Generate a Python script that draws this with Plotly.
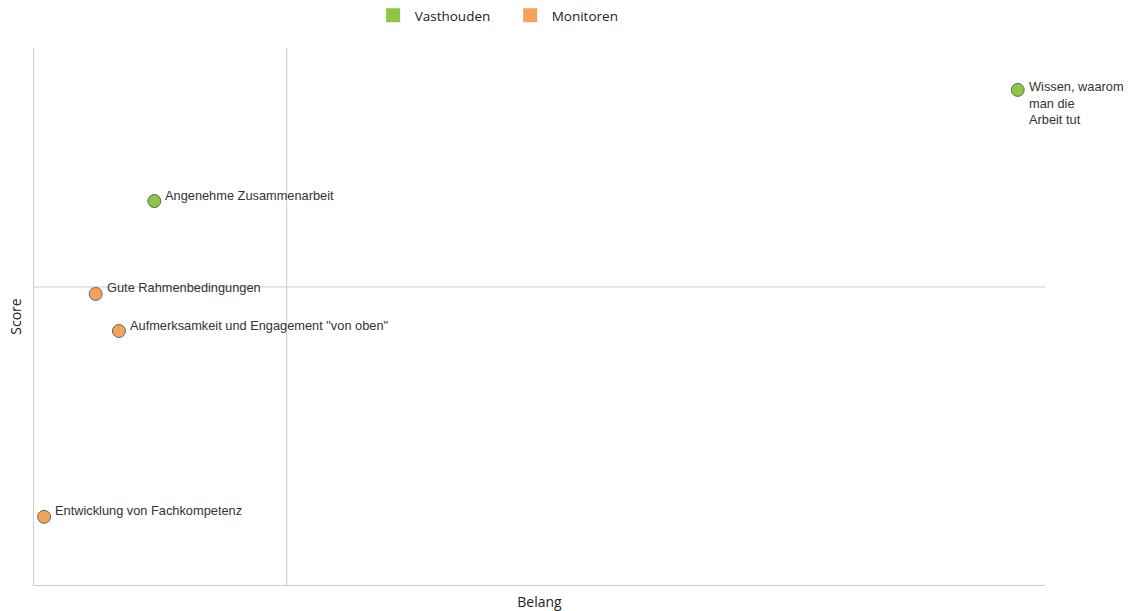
import plotly.graph_objects as go

# Data (axes scaled 0-100)
labels = ["Wissen, waarom<br>man die<br>Arbeit tut", "Angenehme Zusammenarbeit",
          "Gute Rahmenbedingungen", "Aufmerksamkeit und Engagement \"von oben\"",
          "Entwicklung von Fachkompetenz"]
belang = [97.3, 11.9, 6.1, 8.4, 1.0]
score = [92.2, 71.5, 54.2, 47.3, 12.7]
groups = ["Vasthouden", "Vasthouden", "Monitoren", "Monitoren", "Monitoren"]
series_names = ["Vasthouden", "Monitoren"]
series_colors = {"Vasthouden": "#8dc63f", "Monitoren": "#f5a35a"}
x_split = 25.0
y_split = 55.5

fig = go.Figure()
for name in series_names:
    xs = [b for b, g in zip(belang, groups) if g == name]
    ys = [s for s, g in zip(score, groups) if g == name]
    fig.add_trace(go.Scatter(x=xs, y=ys, mode="markers", showlegend=False,
                             marker=dict(size=13, color=series_colors[name],
                                         line=dict(color="#666666", width=1)),
                             hoverinfo="skip"))
for name in series_names:
    fig.add_trace(go.Scatter(x=[None], y=[None], mode="markers", name=name,
                             marker=dict(size=14, symbol="square", color=series_colors[name])))

for lab, b, s in zip(labels, belang, score):
    multi = "<br>" in lab
    fig.add_annotation(x=b, y=s, text=lab, showarrow=False, xanchor="left",
                       yanchor="top" if multi else "middle",
                       xshift=9, yshift=13 if multi else 6, align="left",
                       font=dict(family="Liberation Sans, Arial", size=12.8, color="#333333"))

fig.add_shape(type="line", x0=x_split, x1=x_split, y0=0, y1=100, xref="x", yref="y",
              line=dict(color="#cccccc", width=1), layer="below")
fig.add_shape(type="line", x0=0, x1=100, y0=y_split, y1=y_split, xref="x", yref="y",
              line=dict(color="#cccccc", width=1), layer="below")

fig.update_layout(
    width=1131, height=611,
    margin=dict(l=34, r=86, t=48, b=26),
    paper_bgcolor="white", plot_bgcolor="white",
    font=dict(family="Open Sans, DejaVu Sans", size=13, color="#222222"),
    legend=dict(orientation="h", x=0.334, xanchor="left", y=1.0, yanchor="top",
                yref="container", font=dict(size=13.5), itemwidth=33,
                entrywidth=89, traceorder="normal"),
    xaxis=dict(range=[0, 100], showticklabels=False, showgrid=False, zeroline=False,
               showline=True, linecolor="#cccccc", linewidth=1, ticks="",
               title=dict(text="Belang", standoff=12, font=dict(size=14)), automargin=False,
               fixedrange=True),
    yaxis=dict(range=[0, 100], showticklabels=False, showgrid=False, zeroline=False,
               showline=True, linecolor="#cccccc", linewidth=1, ticks="",
               title=dict(text="Score", standoff=8, font=dict(size=14)), automargin=False,
               fixedrange=True),
)
fig.write_html("out.html")
